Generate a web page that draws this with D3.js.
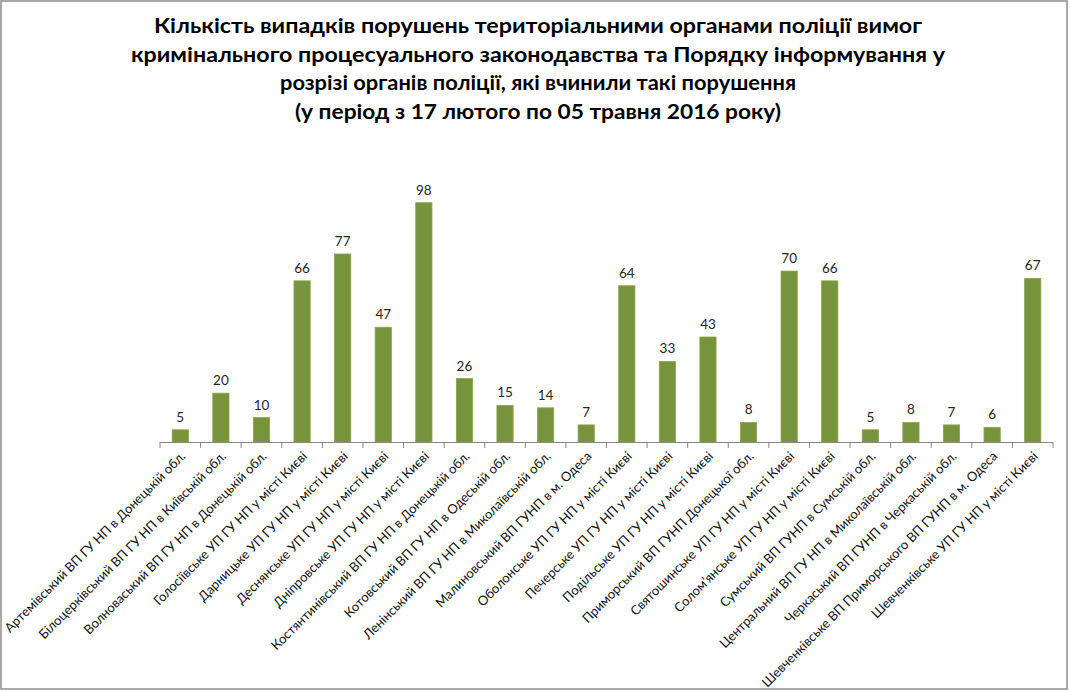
<!DOCTYPE html>
<html>
<head>
<meta charset="utf-8">
<script src="https://cdn.jsdelivr.net/npm/d3@7"></script>
<style>
  body { margin: 0; background: #fff; }
  svg { display: block; }
</style>
</head>
<body>
<svg id="chart"></svg>
<script>
const titleLines = [
    'Кількість випадків порушень територіальними органами поліції вимог',
    'кримінального процесуального законодавства та Порядку інформування у',
    'розрізі органів поліції, які вчинили такі порушення',
    '(у період з 17 лютого по 05 травня 2016 року)'
];

const units = [
    'Артемівський ВП ГУ НП в Донецькій обл.',
    'Білоцерківський ВП ГУ НП в Київській обл.',
    'Волноваський ВП  ГУ НП в Донецькій обл.',
    'Голосіївське УП ГУ НП у місті Києві',
    'Дарницьке УП ГУ НП у місті Києві',
    'Деснянське УП ГУ НП у місті Києві',
    'Дніпровське УП ГУ НП у місті Києві',
    'Костянтинівський ВП ГУ НП в Донецькій обл.',
    'Котовський ВП ГУ НП в Одеській обл.',
    'Ленінський ВП ГУ НП в Миколаївській обл.',
    'Малиновський ВП ГУНП в м. Одеса',
    'Оболонське УП ГУ НП у місті Києві',
    'Печерське УП ГУ НП у місті Києві',
    'Подільське УП ГУ НП у місті Києві',
    'Приморський ВП ГУНП Донецької обл.',
    'Святошинське УП ГУ НП у місті Києві',
    'Солом’янське УП ГУ НП у місті Києві',
    'Сумський ВП ГУНП в Сумській обл.',
    'Центральний ВП ГУ НП в Миколаївській обл.',
    'Черкаський ВП ГУНП в Черкаській обл.',
    'Шевченківське ВП Приморського ВП ГУНП в м. Одеса',
    'Шевченківське УП ГУ НП у місті Києві'
];

const violations = [5, 20, 10, 66, 77, 47, 98, 26, 15, 14, 7, 64, 33, 43, 8, 70, 66, 5, 8, 7, 6, 67];

const width = 1070;
const height = 692;
const plot = { left: 160, right: 1053, top: 149, bottom: 442 };

const svg = d3.select('#chart').attr('width', width).attr('height', height);

// outer frame
svg.append('rect')
    .attr('x', 1).attr('y', 1)
    .attr('width', width - 4).attr('height', height - 4)
    .attr('fill', '#fff')
    .attr('stroke', '#8c8c8c')
    .attr('stroke-width', 1.5);

// title, squeezed to the widths of the narrow original font
const titleWidths = [768, 814, 516, 486];
const title = svg.append('g').attr('font-family', 'Lato, "Open Sans", sans-serif')
    .attr('font-weight', 'bold')
    .attr('font-size', '20px')
    .attr('fill', '#000');
titleLines.forEach((line, i) => {
    title.append('text')
        .attr('x', 538)
        .attr('y', 33 + i * 28.5)
        .attr('text-anchor', 'middle')
        .attr('textLength', titleWidths[i])
        .attr('lengthAdjust', 'spacingAndGlyphs')
        .text(line);
});

const xScale = d3.scaleBand()
    .domain(units)
    .range([plot.left, plot.right])
    .paddingInner(0.6)
    .paddingOuter(0.3);

const yScale = d3.scaleLinear()
    .domain([0, 120])
    .range([plot.bottom, plot.top]);

svg.append('g')
    .selectAll('rect')
    .data(violations)
    .enter()
    .append('rect')
    .attr('x', (d, i) => xScale(units[i]))
    .attr('y', d => yScale(d))
    .attr('width', xScale.bandwidth())
    .attr('height', d => yScale(0) - yScale(d))
    .attr('fill', '#77933c')
    .attr('stroke', '#8aa64e')
    .attr('stroke-width', 0.8);

svg.append('g')
    .selectAll('text')
    .data(violations)
    .enter()
    .append('text')
    .attr('x', (d, i) => xScale(units[i]) + xScale.bandwidth() / 2)
    .attr('y', d => yScale(d) - 8)
    .attr('text-anchor', 'middle')
    .attr('font-family', 'Lato, "Open Sans", sans-serif')
    .attr('font-size', '13.5px')
    .attr('fill', '#262626')
    .text(d => d);

// category axis: baseline + ticks between categories
const step = (plot.right - plot.left) / units.length;
const axis = svg.append('g').attr('stroke', '#868686').attr('stroke-width', 1);
axis.append('line')
    .attr('x1', plot.left).attr('x2', plot.right)
    .attr('y1', plot.bottom + 0.5).attr('y2', plot.bottom + 0.5);
axis.selectAll('.tick')
    .data(d3.range(units.length + 1))
    .enter()
    .append('line')
    .attr('x1', i => plot.left + i * step)
    .attr('x2', i => plot.left + i * step)
    .attr('y1', plot.bottom)
    .attr('y2', plot.bottom + 6);

svg.append('g')
    .selectAll('text')
    .data(units)
    .enter()
    .append('text')
    .attr('transform', d => `translate(${xScale(d) + xScale.bandwidth() / 2 + 6}, ${plot.bottom + 15}) rotate(-45)`)
    .attr('text-anchor', 'end')
    .attr('font-family', 'Lato, "Open Sans", sans-serif')
    .attr('font-size', '13px')
    .attr('fill', '#111')
    .text(d => d);
</script>
</body>
</html>
